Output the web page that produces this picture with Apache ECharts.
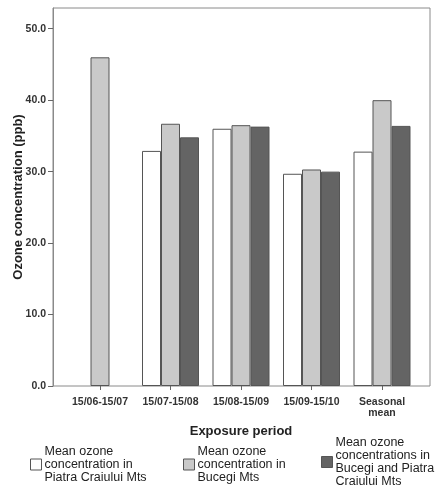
<!DOCTYPE html>
<html>
<head>
<meta charset="utf-8">
<script src="https://cdn.jsdelivr.net/npm/echarts@6/dist/echarts.min.js"></script>
<style>
  html, body { margin: 0; padding: 0; background: #fff; }
  #chart { width: 440px; height: 488px; }
</style>
</head>
<body>
<div id="chart"></div>
<script>
// Exposure periods and mean ozone concentrations (ppb)
const categories = ['15/06-15/07', '15/07-15/08', '15/08-15/09', '15/09-15/10', 'Seasonal\nmean'];
const piatraCraiului = [null, 32.9, 36.0, 29.7, 32.8];
const bucegi = [46.0, 36.7, 36.5, 30.3, 40.0];
const bothMountains = [null, 34.8, 36.3, 30.0, 36.4];

const seriesNames = [
  'Mean ozone\nconcentration in\nPiatra Craiului Mts',
  'Mean ozone\nconcentration in\nBucegi Mts',
  'Mean ozone\nconcentrations in\nBucegi and Piatra\nCraiului Mts'
];
const fills = ['#ffffff', '#c9c9c9', '#646464'];

const FONT = 'Liberation Sans, Arial, sans-serif';
const Y_MAX = 52.9;

const chart = echarts.init(document.getElementById('chart'), null, { renderer: 'canvas' });

const barSeries = [piatraCraiului, bucegi, bothMountains].map((data, i) => ({
  name: seriesNames[i],
  type: 'bar',
  xAxisIndex: 0,
  yAxisIndex: 0,
  data: data,
  barWidth: 19,
  barGap: '0%',
  itemStyle: { color: fills[i], borderColor: '#555', borderWidth: 1 },
  emphasis: { disabled: true }
}));

const legendLeft = [30, 183, 321];
const legendTop = [445, 445, 436];
const legends = seriesNames.map((n, i) => ({
  data: [n],
  left: legendLeft[i],
  top: legendTop[i],
  padding: 0,
  orient: 'vertical',
  icon: 'rect',
  itemWidth: 11,
  itemHeight: 11,
  selectedMode: false,
  textStyle: { fontFamily: FONT, fontSize: 12.5, color: '#222', lineHeight: 13, padding: [0, 0, 0, -2] },
  itemStyle: { borderColor: '#555', borderWidth: 1 }
}));

chart.setOption({
  animation: false,
  backgroundColor: '#fff',
  legend: legends,
  grid: [
    // bars
    { left: 64.75, right: 22.75, top: 8, bottom: 102, outerBoundsMode: 'none', containLabel: false },
    // frame and value axis
    { left: 53, right: 10, top: 8, bottom: 102, outerBoundsMode: 'none', containLabel: false,
      show: true, borderColor: '#8a8a8a', borderWidth: 1, backgroundColor: 'transparent' }
  ],
  xAxis: [
    {
      type: 'category',
      gridIndex: 0,
      data: categories,
      axisLine: { show: false },
      axisTick: { show: true, alignWithLabel: true, length: 4, lineStyle: { color: '#666' } },
      axisLabel: { fontFamily: FONT, fontSize: 10.5, fontWeight: 'bold', color: '#333', margin: 11, lineHeight: 11, interval: 0 },
      name: 'Exposure period',
      nameLocation: 'middle',
      nameGap: 39,
      nameMoveOverlap: false,
      nameTextStyle: { fontFamily: FONT, fontSize: 13, fontWeight: 'bold', color: '#222' }
    },
    {
      type: 'value',
      gridIndex: 1,
      show: false
    }
  ],
  yAxis: [
    {
      type: 'value',
      gridIndex: 0,
      min: 0,
      max: Y_MAX,
      interval: 10,
      show: false,
      splitLine: { show: false }
    },
    {
      type: 'value',
      gridIndex: 1,
      min: 0,
      max: Y_MAX,
      interval: 10,
      axisLine: { show: true, lineStyle: { color: '#8a8a8a' } },
      axisTick: { show: true, length: 5, lineStyle: { color: '#666' } },
      splitLine: { show: false },
      axisLabel: {
        fontFamily: FONT, fontSize: 10.5, fontWeight: 'bold', color: '#333', margin: 7,
        showMaxLabel: false,
        formatter: v => v.toFixed(1)
      },
      name: 'Ozone concentration (ppb)',
      nameLocation: 'middle',
      nameGap: 28,
      nameMoveOverlap: false,
      nameTextStyle: { fontFamily: FONT, fontSize: 13, fontWeight: 'bold', color: '#222' }
    }
  ],
  series: barSeries
});
</script>
</body>
</html>
